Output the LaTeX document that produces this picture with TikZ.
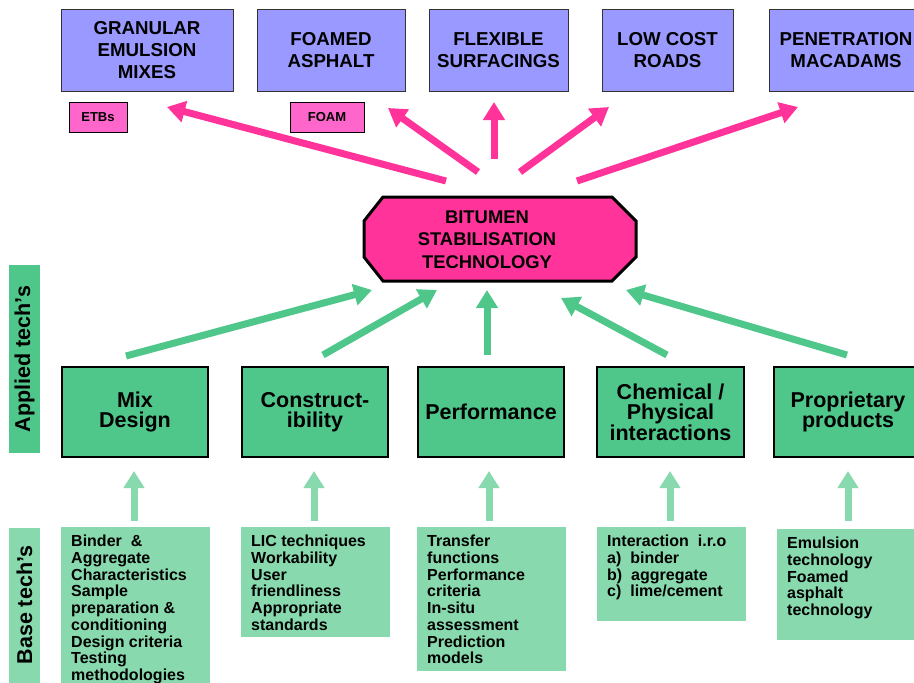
\documentclass[tikz,border=0pt]{standalone}
\usepackage{fontspec}
\setmainfont{Liberation Sans}
\usetikzlibrary{arrows.meta}
\definecolor{purp}{RGB}{153,153,255}
\definecolor{hotpink}{RGB}{255,51,153}
\definecolor{lightpink}{RGB}{255,102,204}
\definecolor{midgreen}{RGB}{80,199,138}
\definecolor{lightgreen}{RGB}{136,217,173}
\begin{document}
\begin{tikzpicture}[x=1pt,y=-1pt,
  topbox/.style={draw=black!80, line width=1pt, fill=purp, align=center, inner sep=0pt,
    minimum height=82pt, font=\bfseries\fontsize{18.7}{22}\selectfont},
  tagbox/.style={draw=black, line width=0.8pt, fill=lightpink, inner sep=0pt,
    minimum height=30pt, font=\bfseries\fontsize{13}{15}\selectfont},
  midbox/.style={draw=black, line width=1.3pt, fill=midgreen, align=center, inner sep=0pt,
    minimum height=90pt, font=\bfseries\fontsize{21.5}{20.5}\selectfont},
  basebox/.style={fill=lightgreen, inner sep=0pt},
  basetext/.style={anchor=north west, align=left, inner sep=0pt,
    font=\bfseries\fontsize{16}{16.7}\selectfont},
  sidebox/.style={inner sep=0pt, minimum height=31pt, rotate=90,
    font=\bfseries\fontsize{21.5}{22}\selectfont},
  pinkarrow/.style={draw=hotpink, line width=7pt, -{Triangle[length=18pt,width=21pt]}},
  greenarrow/.style={draw=midgreen, line width=7pt, -{Triangle[length=18pt,width=21pt]}},
  lgarrow/.style={draw=lightgreen, line width=7pt, -{Triangle[length=17pt,width=20pt]}},
]
\useasboundingbox (0,0) rectangle (914,683);

% top boxes
\node[topbox, minimum width=172pt] (gem) at (147,50) {GRANULAR\\EMULSION\\MIXES};
\node[topbox, minimum width=148pt] (fa) at (331,50) {FOAMED\\ASPHALT};
\node[topbox, minimum width=139pt] (fs) at (498.5,50) {FLEXIBLE\\SURFACINGS};
\node[topbox, minimum width=131pt] (lcr) at (667.5,50) {LOW COST\\ROADS};
\node[topbox, minimum width=154pt] (pm) at (846,50) {PENETRATION\\MACADAMS};

\node[tagbox, minimum width=58pt] (etb) at (98,117) {ETBs};
\node[tagbox, minimum width=74pt] (foam) at (327,117) {FOAM};

% central octagon
\draw[line width=3pt, fill=hotpink, line join=miter]
  (383,197) -- (612,197) -- (636,221) -- (636,257) -- (612,281) -- (383,281) -- (364,257) -- (364,221) -- cycle;
\node[align=center, inner sep=0pt, font=\bfseries\fontsize{18.4}{22.5}\selectfont] (bst) at (487,239.5)
  {BITUMEN\\STABILISATION\\TECHNOLOGY};

% pink arrows
\coordinate (p1s) at (446,181); \coordinate (p1e) at (167,107);
\coordinate (p2s) at (478,172); \coordinate (p2e) at (388,108);
\coordinate (p3s) at (494,159); \coordinate (p3e) at (494,102);
\coordinate (p4s) at (520,172); \coordinate (p4e) at (609,107);
\coordinate (p5s) at (577,181); \coordinate (p5e) at (798,107);
\draw[pinkarrow] (p1s) -- (p1e);
\draw[pinkarrow] (p2s) -- (p2e);
\draw[pinkarrow] (p3s) -- (p3e);
\draw[pinkarrow] (p4s) -- (p4e);
\draw[pinkarrow] (p5s) -- (p5e);

% side labels
\node[sidebox, fill=midgreen, minimum width=188pt] (applied) at (24.5,359) {Applied tech’s};
\node[sidebox, fill=lightgreen, minimum width=155pt] (base) at (24.5,605) {Base tech’s};

% middle boxes
\node[midbox, minimum width=146pt] (mix) at (135,412) {Mix\\Design};
\node[midbox, minimum width=146pt] (con) at (315,412) {Construct-\\ibility};
\node[midbox, minimum width=146pt] (perf) at (491,412) {Performance};
\node[midbox, minimum width=147pt] (chem) at (670.5,412) {Chemical /\\Physical\\interactions};
\node[midbox, minimum width=148pt] (prop) at (848,412) {Proprietary\\products};

% green arrows
\coordinate (g1s) at (126,356); \coordinate (g1e) at (372,290);
\coordinate (g2s) at (323,355); \coordinate (g2e) at (437,290);
\coordinate (g3s) at (487,355); \coordinate (g3e) at (487,290);
\coordinate (g4s) at (667,355); \coordinate (g4e) at (561,298);
\coordinate (g5s) at (847,355); \coordinate (g5e) at (626,290);
\draw[greenarrow] (g1s) -- (g1e);
\draw[greenarrow] (g2s) -- (g2e);
\draw[greenarrow] (g3s) -- (g3e);
\draw[greenarrow] (g4s) -- (g4e);
\draw[greenarrow] (g5s) -- (g5e);

% base boxes
\node[basebox, minimum width=149pt, minimum height=158pt] (b1) at (135.5,606) {};
\node[basebox, minimum width=149pt, minimum height=110pt] (b2) at (315.5,582) {};
\node[basebox, minimum width=149pt, minimum height=144pt] (b3) at (491.5,599) {};
\node[basebox, minimum width=149pt, minimum height=94pt] (b4) at (671.5,574) {};
\node[basebox, minimum width=150pt, minimum height=111pt] (b5) at (852,584.5) {};

\node[basetext] (t1) at (71,535) {Binder\ \ \&\\Aggregate\\Characteristics\\Sample\\preparation \&\\conditioning\\Design criteria\\Testing\\methodologies};
\node[basetext] (t2) at (251,535) {LIC techniques\\Workability\\User\\friendliness\\Appropriate\\standards};
\node[basetext] (t3) at (427,535) {Transfer\\functions\\Performance\\criteria\\In-situ\\assessment\\Prediction\\models};
\node[basetext] (t4) at (607,535) {Interaction\ \ i.r.o\\a)\ \ binder\\b)\ \ aggregate\\c)\ \ lime/cement};
\node[basetext] (t5) at (787,537) {Emulsion\\technology\\Foamed\\asphalt\\technology};

% short arrows base -> applied
\coordinate (s1s) at (134,521); \coordinate (s1e) at (134,471);
\coordinate (s2s) at (314,521); \coordinate (s2e) at (314,471);
\coordinate (s3s) at (489,521); \coordinate (s3e) at (489,471);
\coordinate (s4s) at (670,521); \coordinate (s4e) at (670,471);
\coordinate (s5s) at (848,521); \coordinate (s5e) at (848,471);
\draw[lgarrow] (s1s) -- (s1e);
\draw[lgarrow] (s2s) -- (s2e);
\draw[lgarrow] (s3s) -- (s3e);
\draw[lgarrow] (s4s) -- (s4e);
\draw[lgarrow] (s5s) -- (s5e);
\end{tikzpicture}
\end{document}
